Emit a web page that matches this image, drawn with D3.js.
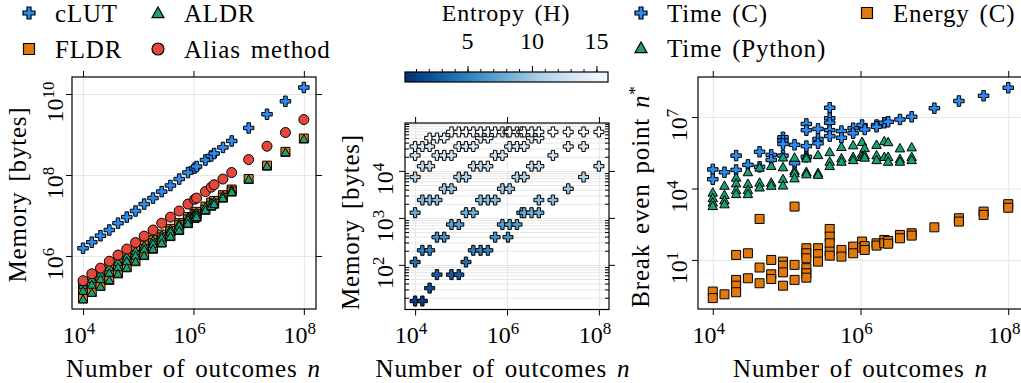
<!doctype html>
<html>
<head>
<meta charset="utf-8">
<title>Memory / break even</title>
<script src="https://d3js.org/d3.v7.min.js"></script>
<style>
  html, body { margin: 0; background: #fff; }
</style>
</head>
<body>
<svg id="chart" width="1021" height="383" font-family="Liberation Serif"></svg>
<script>
// ---- data ----
// n values used on every x axis (index -> n)
var nGrid = [1e4, 1.44e4, 2.07e4, 2.99e4, 4.30e4, 6.19e4, 8.92e4, 1.28e5, 1.85e5, 2.66e5,
             3.83e5, 5.52e5, 7.95e5, 1.05e6, 1.14e6, 1.65e6, 2.10e6, 2.37e6, 3.42e6, 4.93e6,
             1e7, 2.15e7, 4.64e7, 1e8];

// panel 1: memory in bytes, one value per nGrid entry
var clutBytes = [1.55e6, 2.19e6, 3.16e6, 4.37e6, 6.46e6, 9.12e6, 1.29e7, 1.91e7, 2.69e7, 3.89e7,
                 5.50e7, 7.94e7, 1.15e8, 1.48e8, 1.62e8, 2.34e8, 2.95e8, 3.39e8, 4.79e8, 6.92e8,
                 1.45e9, 3.16e9, 6.61e9, 1.45e10];
var aliasBytes = [2.45e5, 3.63e5, 5.01e5, 7.41e5, 1.05e6, 1.48e6, 2.14e6, 3.09e6, 4.37e6, 6.46e6,
                  9.12e6, 1.29e7, 1.91e7, 2.51e7, 2.69e7, 3.89e7, 5.01e7, 5.75e7, 7.94e7, 1.15e8,
                  2.40e8, 5.13e8, 1.12e9, 2.34e9];
// [nGrid index, bytes]
var fldrBytes = [
  [0,1.95e5],[0,1.41e5],[0,8.91e4],[1,2.75e5],[1,2.00e5],[1,1.29e5],[2,3.80e5],[2,2.75e5],[2,1.82e5],
  [3,5.37e5],[3,3.89e5],[3,2.57e5],[4,7.24e5],[4,5.37e5],[4,3.72e5],[5,1.00e6],[5,7.59e5],[5,5.25e5],
  [6,1.35e6],[6,1.05e6],[6,7.41e5],[7,1.82e6],[7,1.48e6],[7,1.05e6],[8,2.45e6],[8,2.04e6],[8,1.51e6],
  [9,3.39e6],[9,2.88e6],[9,2.14e6],[10,4.68e6],[10,4.07e6],[10,3.09e6],[11,6.46e6],[11,5.75e6],[11,4.37e6],
  [12,9.12e6],[12,7.94e6],[12,6.46e6],[13,1.12e7],[13,8.71e6],[14,1.23e7],[14,1.07e7],[14,9.33e6],
  [15,1.66e7],[15,1.38e7],[16,2.09e7],[16,1.74e7],[17,2.29e7],[17,1.95e7],[18,3.16e7],[18,2.75e7],
  [19,4.37e7],[19,3.89e7],[20,7.94e7],[21,1.70e8],[22,3.72e8],[23,7.94e8]];
var aldrBytes = [
  [0,1.90e5],[0,1.38e5],[0,8.51e4],[1,2.69e5],[1,1.95e5],[1,1.23e5],[2,3.72e5],[2,2.69e5],[2,1.74e5],
  [3,5.25e5],[3,3.80e5],[3,2.51e5],[4,7.08e5],[4,5.25e5],[4,3.63e5],[5,9.77e5],[5,7.41e5],[5,5.13e5],
  [6,1.32e6],[6,1.02e6],[6,7.24e5],[7,1.78e6],[7,1.45e6],[7,1.02e6],[8,2.40e6],[8,2.00e6],[8,1.48e6],
  [9,3.31e6],[9,2.82e6],[9,2.09e6],[10,4.57e6],[10,3.98e6],[10,3.02e6],[11,6.31e6],[11,5.62e6],[11,4.27e6],
  [12,8.91e6],[12,7.76e6],[12,6.31e6],[13,1.10e7],[13,8.51e6],[14,1.20e7],[14,1.05e7],[14,9.12e6],
  [15,1.62e7],[15,1.35e7],[16,2.04e7],[16,1.70e7],[17,2.24e7],[17,1.91e7],[18,3.09e7],[18,2.69e7],
  [19,4.27e7],[19,3.80e7],[20,7.76e7],[21,1.66e8],[22,3.63e8],[23,7.76e8]];

// panel 2: rows of equal memory, their entropy and the nGrid indices on each row
var rowEntropy = [1, 2, 3, 4, 5, 6, 7, 8, 9, 10, 11, 12, 13, 14, 15, 16];
var rowBytes = [17, 32, 62, 115, 204, 389, 724, 1290, 2400, 4170, 7410, 12600, 21400, 33100, 50100, 67600];
var rowOutcomes = [
  [0, 1], [2], [3, 5, 6], [0, 7], [1, 2, 8, 9, 10], [3, 4, 11, 13], [5, 6, 12, 14, 15],
  [0, 7, 8, 16, 17, 18, 19], [1, 2, 3, 9, 10, 11, 19, 20], [4, 5, 12, 14, 21],
  [0, 6, 7, 15, 17, 22], [1, 2, 8, 9, 10, 18, 19, 23], [0, 3, 4, 5, 11, 12, 20],
  [0, 1, 2, 6, 7, 8, 14, 15, 17, 21, 22], [2, 3, 4, 9, 10, 18, 19],
  [5, 6, 7, 8, 9, 10, 11, 12, 13, 14, 15, 16, 17, 18, 19, 20, 21, 22, 23]];

// panel 3: [nGrid index, break even n*]
var timeC = [
  [0,6.3e4],[0,2.45e4],[1,4.8e4],[2,2.4e5],[2,6.0e4],[3,9.8e4],[4,3.47e5],[4,8.1e4],[5,2.57e5],[5,1.58e5],
  [6,1.41e6],[6,1.02e6],[6,7.4e5],[6,2.4e5],[7,6.8e5],[7,1.15e5],[8,5.1e6],[8,2.8e6],[8,6.0e5],[8,2.14e5],
  [9,3.16e6],[9,1.2e6],[9,7.9e5],[10,2.45e7],[10,8.9e6],[10,5.75e6],[10,2.8e6],[10,1.58e6],
  [11,2.57e6],[11,1.35e6],[12,3.4e6],[12,2.1e6],[13,4.6e6],[14,3.0e6],[15,4.6e6],[15,3.9e6],
  [16,5.75e6],[17,6.3e6],[18,7.9e6],[19,1.02e7],[20,2.34e7],[21,4.7e7],[22,7.8e7],[23,1.7e8]];
var timePython = [
  [0,6.8e3],[0,4.0e3],[0,2.6e3],[0,1.86e3],[1,1.32e4],[1,5.4e3],[1,3.2e3],[1,2.2e3],
  [2,2.9e4],[2,1.66e4],[2,8.7e3],[2,5.9e3],[3,4.9e4],[3,1.58e4],[3,8.7e3],[3,5.9e3],
  [4,7.6e4],[4,1.78e4],[4,1.12e4],[5,8.9e4],[5,1.78e4],[5,1.32e4],
  [6,2.04e5],[6,7.9e4],[6,2.5e4],[6,1.35e4],[7,2.0e5],[7,5.6e4],[7,4.4e4],[7,2.7e4],
  [8,2.24e5],[8,1.86e5],[8,5.0e4],[8,4.0e4],[9,2.57e5],[9,4.5e4],[9,3.8e4],
  [10,3.4e5],[10,1.35e5],[10,8.9e4],[11,5.6e5],[11,1.86e5],[11,1.35e5],[12,6.6e5],[12,2.14e5],[12,1.58e5],
  [13,9.1e5],[13,2.95e5],[13,2.14e5],[14,5.0e5],[14,2.5e5],[14,2.0e5],[15,6.9e5],[15,2.5e5],[15,1.58e5],
  [16,9.8e5],[16,2.14e5],[17,8.9e5],[17,2.14e5],[17,1.35e5],[18,4.9e5],[18,1.74e5],[18,1.35e5],
  [19,5.4e5],[19,2.14e5],[19,1.58e5]];
var energyC = [
  [0,0.47],[0,0.25],[1,0.36],[2,16.2],[2,1.45],[2,0.83],[2,0.44],[3,19],[3,1.7],
  [4,525],[4,4.8],[4,1.05],[5,10],[5,2.5],[5,1.58],[6,8.5],[6,5.75],[6,3.0],[6,0.83],
  [7,1740],[7,6.2],[7,1.45],[8,31],[8,19],[8,11.7],[8,4.5],[8,2.75],[8,1.8],
  [9,31],[9,17.4],[9,8.5],[10,200],[10,95],[10,50],[10,22.4],[10,15.1],
  [11,26.3],[11,13.8],[12,36.3],[12,19],[13,59],[13,33],[14,38],[14,26.3],[15,50],[15,40],
  [16,69],[16,50],[17,63],[17,48],[18,112],[18,81],[19,132],[19,105],[20,234],
  [21,562],[21,407],[22,1070],[22,776],[23,2190],[23,1550]];

// colours
var blue = "#2a8cf2", orange = "#e2790e", green = "#19a078", red = "#e4473b";
var gridColor = "#e6e6e6";
var FONT = "Liberation Serif";

var svg = d3.select("#chart");

// marker shapes, size = box width squared
var plusSym = { draw: function (c, s) {
  var a = Math.sqrt(s) / 2, t = a / 3;
  c.moveTo(-a, -t); c.lineTo(-t, -t); c.lineTo(-t, -a); c.lineTo(t, -a); c.lineTo(t, -t); c.lineTo(a, -t);
  c.lineTo(a, t); c.lineTo(t, t); c.lineTo(t, a); c.lineTo(-t, a); c.lineTo(-t, t); c.lineTo(-a, t); c.closePath();
}};
var squareSym = { draw: function (c, s) { var a = Math.sqrt(s) / 2; c.rect(-a, -a, 2 * a, 2 * a); } };
var triSym = { draw: function (c, s) {
  var a = Math.sqrt(s) / 2;
  c.moveTo(0, -a); c.lineTo(a, a * 0.78); c.lineTo(-a, a * 0.78); c.closePath();
}};
var circSym = { draw: function (c, s) { var r = Math.sqrt(s) / 2; c.moveTo(r, 0); c.arc(0, 0, r, 0, 2 * Math.PI); } };

function sym(type, w) { return d3.symbol().type(type).size(w * w)(); }

function txt(sel) { return sel.append("text").attr("font-family", FONT).attr("fill", "#000"); }

// "10^k" label
function powLabel(sel, k) {
  sel.text("10").append("tspan").attr("font-size", 17).attr("dy", -9).text(k);
}

function panel(cfg) {
  var x = d3.scaleLog().domain(cfg.xDom).range([cfg.left, cfg.right]);
  var y = d3.scaleLog().domain(cfg.yDom).range([cfg.bottom, cfg.top]);
  var w = cfg.right - cfg.left, h = cfg.bottom - cfg.top;
  var g = svg.append("g");
  var noDomain = function (s) { s.select(".domain").remove(); };

  // grid
  var yGrid = cfg.yMinor ? cfg.yMinor.concat(cfg.yTicks) : cfg.yTicks;
  g.append("g").attr("transform", "translate(0," + cfg.bottom + ")")
    .call(d3.axisBottom(x).tickValues(cfg.xTicks).tickSize(-h).tickFormat(""))
    .call(noDomain).selectAll("line").attr("stroke", gridColor);
  g.append("g").attr("transform", "translate(" + cfg.left + ",0)")
    .call(d3.axisLeft(y).tickValues(yGrid).tickSize(-w).tickFormat(""))
    .call(noDomain).selectAll("line").attr("stroke", gridColor);

  // ticks on all four sides
  var tk = 6;
  [[d3.axisBottom(x), "translate(0," + cfg.bottom + ")", cfg.xTicks],
   [d3.axisTop(x), "translate(0," + cfg.top + ")", cfg.xTicks],
   [d3.axisLeft(y), "translate(" + cfg.left + ",0)", cfg.yTicks],
   [d3.axisRight(y), "translate(" + cfg.right + ",0)", cfg.yTicks]].forEach(function (a) {
    g.append("g").attr("transform", a[1])
      .call(a[0].tickValues(a[2]).tickSize(tk).tickFormat("")).call(noDomain)
      .selectAll("line").attr("stroke", "#000");
  });
  if (cfg.yMinor) {
    g.append("g").attr("transform", "translate(" + cfg.left + ",0)")
      .call(d3.axisLeft(y).tickValues(cfg.yMinor).tickSize(-4).tickFormat("")).call(noDomain)
      .selectAll("line").attr("stroke", "#000");
    g.append("g").attr("transform", "translate(" + cfg.right + ",0)")
      .call(d3.axisRight(y).tickValues(cfg.yMinor).tickSize(-4).tickFormat("")).call(noDomain)
      .selectAll("line").attr("stroke", "#000");
  }

  // tick labels
  cfg.xTicks.forEach(function (v) {
    txt(g).attr("x", x(v) - 4).attr("y", 343).attr("text-anchor", "middle")
      .attr("font-size", 24).call(powLabel, Math.round(Math.log10(v)));
  });
  cfg.yTicks.forEach(function (v) {
    txt(g).attr("transform", "translate(" + (cfg.left - cfg.yLabOff) + "," + (y(v) + 8) + ") rotate(-90)")
      .attr("text-anchor", "middle").attr("font-size", 24).call(powLabel, Math.round(Math.log10(v)));
  });

  // frame
  g.append("rect").attr("x", cfg.left).attr("y", cfg.top).attr("width", w).attr("height", h)
    .attr("fill", "none").attr("stroke", "#000").attr("stroke-width", 1.2);

  // axis titles
  var xt = txt(g).attr("x", cfg.xTitleX).attr("y", 376.5).attr("text-anchor", "middle")
    .attr("font-size", 25).attr("letter-spacing", 0.8).attr("word-spacing", 3)
    .text("Number of outcomes ");
  xt.append("tspan").attr("font-style", "italic").text("n");
  txt(g).attr("transform", "translate(" + cfg.yTitle[0] + "," + cfg.yTitle[1] + ") rotate(-90)")
    .attr("text-anchor", "middle").attr("font-size", 25).attr("letter-spacing", 0.8).attr("word-spacing", 3)
    .call(cfg.yTitleText);

  var marks = svg.append("g");
  return { x: x, y: y, g: marks };
}

function dots(p, data, getN, getV, type, w, fill) {
  p.g.selectAll(null).data(data).enter().append("path")
    .attr("d", sym(type, w))
    .attr("transform", function (d) { return "translate(" + p.x(getN(d)) + "," + p.y(getV(d)) + ")"; })
    .attr("fill", typeof fill === "function" ? fill : function () { return fill; })
    .attr("stroke", "#000").attr("stroke-width", 1);
}

// ---- panel 1 ----
var p1 = panel({
  left: 72, right: 316, top: 77, bottom: 309,
  xDom: [Math.pow(10, 3.8), Math.pow(10, 8.22)], yDom: [Math.pow(10, 4.69), Math.pow(10, 10.42)],
  xTicks: [1e4, 1e6, 1e8], yTicks: [1e6, 1e8, 1e10], yLabOff: 9,
  xTitleX: 193.5, yTitle: [25.5, 194.5],
  yTitleText: function (t) { t.text("Memory [bytes]"); }
});
var idx = d3.range(nGrid.length);
dots(p1, idx, function (i) { return nGrid[i]; }, function (i) { return clutBytes[i]; }, plusSym, 10.5, blue);
dots(p1, fldrBytes, function (d) { return nGrid[d[0]]; }, function (d) { return d[1]; }, squareSym, 9, orange);
dots(p1, aldrBytes, function (d) { return nGrid[d[0]]; }, function (d) { return d[1]; }, triSym, 9, green);
dots(p1, idx, function (i) { return nGrid[i]; }, function (i) { return aliasBytes[i]; }, circSym, 10, red);

// ---- panel 2 ----
var hMin = 0.15, hMax = 15.9;
var colour = d3.scaleSequential(function (t) { return d3.interpolateBlues(1 - t); }).domain([hMin, hMax]).clamp(true);
var minor2 = [];
[10, 100, 1000, 10000].forEach(function (b) { [2, 3, 4, 5, 6, 7, 8, 9].forEach(function (m) { minor2.push(b * m); }); });
minor2.push(1e5);
var p2 = panel({
  left: 405, right: 609, top: 123, bottom: 309.5,
  xDom: [Math.pow(10, 3.78), Math.pow(10, 8.22)], yDom: [Math.pow(10, 1.05), Math.pow(10, 5.02)],
  xTicks: [1e4, 1e6, 1e8], yTicks: [1e2, 1e3, 1e4], yMinor: minor2, yLabOff: 12,
  xTitleX: 503, yTitle: [359, 222],
  yTitleText: function (t) { t.text("Memory [bytes]"); }
});
var p2pts = [];
rowOutcomes.forEach(function (list, r) {
  list.forEach(function (i) { p2pts.push({ n: nGrid[i], bytes: rowBytes[r], H: rowEntropy[r] }); });
});
dots(p2, p2pts, function (d) { return d.n; }, function (d) { return d.bytes; }, plusSym, 10, function (d) { return colour(d.H); });

// colour bar
var cb = { left: 405, right: 608, top: 72, h: 10 };
var cx = d3.scaleLinear().domain([hMin, hMax]).range([cb.left, cb.right]);
var grad = svg.append("defs").append("linearGradient").attr("id", "cbgrad");
d3.range(0, 1.0001, 0.05).forEach(function (t) {
  grad.append("stop").attr("offset", t).attr("stop-color", colour(hMin + t * (hMax - hMin)));
});
svg.append("rect").attr("x", cb.left).attr("y", cb.top).attr("width", cb.right - cb.left).attr("height", cb.h)
  .attr("fill", "url(#cbgrad)").attr("stroke", "#000").attr("stroke-width", 1.2);
svg.append("g").attr("transform", "translate(0," + cb.top + ")")
  .call(d3.axisTop(cx).tickValues(d3.range(1, 16)).tickSize(3).tickFormat(""))
  .call(function (s) { s.select(".domain").remove(); }).selectAll("line").attr("stroke", "#000");
svg.append("g").attr("transform", "translate(0," + cb.top + ")")
  .call(d3.axisTop(cx).tickValues([5, 10, 15]).tickSize(6).tickFormat(""))
  .call(function (s) { s.select(".domain").remove(); }).selectAll("line").attr("stroke", "#000");
[5, 10, 15].forEach(function (v) {
  txt(svg).attr("x", cx(v)).attr("y", 49).attr("text-anchor", "middle").attr("font-size", 24).text(v);
});
txt(svg).attr("x", 506).attr("y", 21).attr("text-anchor", "middle").attr("font-size", 24)
  .attr("letter-spacing", 0.8).attr("word-spacing", 3).text("Entropy (H)");

// ---- panel 3 ----
var p3 = panel({
  left: 698, right: 1023, top: 77, bottom: 309,
  xDom: [Math.pow(10, 3.8), Math.pow(10, 8.2)], yDom: [Math.pow(10, -1.06), Math.pow(10, 8.68)],
  xTicks: [1e4, 1e6, 1e8], yTicks: [1e1, 1e4, 1e7], yLabOff: 11,
  xTitleX: 860.5, yTitle: [649, 196.5],
  yTitleText: function (t) {
    t.text("Break even point ");
    t.append("tspan").attr("font-style", "italic").text("n");
    t.append("tspan").attr("font-size", 17).attr("dy", -9).text("*");
  }
});
dots(p3, timeC, function (d) { return nGrid[d[0]]; }, function (d) { return d[1]; }, plusSym, 10.5, blue);
dots(p3, timePython, function (d) { return nGrid[d[0]]; }, function (d) { return d[1]; }, triSym, 9.5, green);
dots(p3, energyC, function (d) { return nGrid[d[0]]; }, function (d) { return d[1]; }, squareSym, 9, orange);

// ---- legends ----
function legendItem(mx, my, type, w, fill, label) {
  svg.append("path").attr("d", sym(type, w)).attr("transform", "translate(" + mx + "," + my + ")")
    .attr("fill", fill).attr("stroke", "#000").attr("stroke-width", 1.2);
  txt(svg).attr("x", mx + 26).attr("y", my + 8.5).attr("font-size", 25)
    .attr("letter-spacing", 0.8).attr("word-spacing", 3).text(label);
}
legendItem(29, 13, plusSym, 12, blue, "cLUT");
legendItem(158, 13, triSym, 12, green, "ALDR");
legendItem(29, 49, squareSym, 11, orange, "FLDR");
legendItem(158, 49, circSym, 12, red, "Alias method");
legendItem(641, 13, plusSym, 12, blue, "Time (C)");
legendItem(867, 13, squareSym, 11, orange, "Energy (C)");
legendItem(641, 48, triSym, 12, green, "Time (Python)");
</script>
</body>
</html>
